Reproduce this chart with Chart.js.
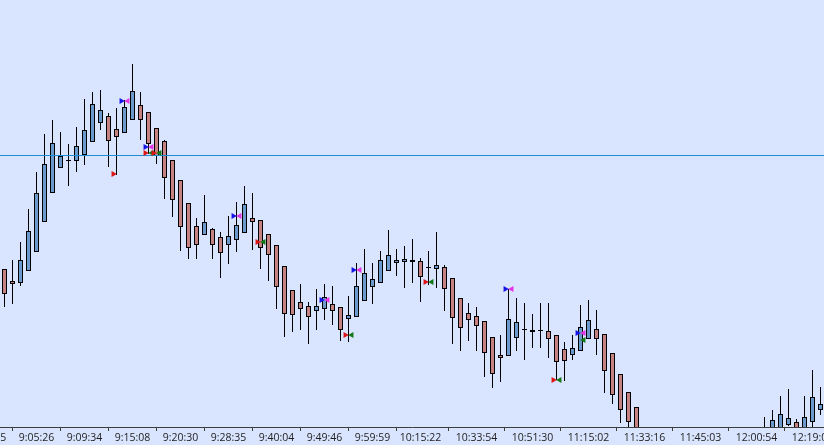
<!DOCTYPE html>
<html>
<head>
<meta charset="utf-8">
<script src="https://cdn.jsdelivr.net/npm/chart.js@4.4.0/dist/chart.umd.min.js"></script>
<style>
  html, body { margin: 0; padding: 0; background: #d9e4fe; overflow: hidden; }
  #wrap { width: 824px; height: 445px; }
</style>
</head>
<body>
<div id="wrap"><canvas id="c" width="824" height="445"></canvas></div>
<script>
// ---- data (one candle per index) ----
const opens = [
  4173.1,4171.9,4171.7,4172.9,4174.8,4177.8,4180.7,4183.2,4183.9,4183.9,
  4184.5,4185.8,4187.7,4188.4,4187.1,4186.7,4188.0,4189.5,4188.8,4187.2,
  4185.9,4184.0,4182.0,4179.7,4177.4,4176.5,4177.1,4176.3,4175.5,4176.0,
  4176.7,4178.2,4178.0,4176.6,4175.5,4173.4,4171.0,4169.8,4169.4,4168.9,
  4169.1,4169.6,4169.3,4168.1,4168.3,4169.9,4171.3,4171.7,4172.9,4173.7,
  4173.8,4173.8,4173.9,4173.2,4173.1,4173.3,4172.2,4170.2,4168.7,4168.4,
  4167.9,4166.3,4164.5,4164.4,4166.2,4167.0,4166.8,4166.9,4166.9,4166.5,
  4165.1,4164.5,4164.9,4166.1,4167.1,4166.6,4164.7,4162.6,4160.8,4159.3,
  null,null,null,null,null,null,null,null,null,null,null,null,null,null,null,
  4156.0,4156.8,4157.0,4157.5,4157.8,4157.0,4157.8,4159.0
];
const highs = [
  4173.1,4174.0,4175.8,4179.1,4182.8,4186.6,4188.0,4186.8,4185.6,4187.3,
  4190.1,4190.8,4191.0,4188.7,4189.2,4190.0,4193.6,4190.8,4188.8,4187.2,
  4186.0,4184.0,4182.0,4179.7,4178.2,4180.5,4177.2,4176.8,4178.4,4179.8,
  4181.4,4180.7,4178.0,4176.6,4175.5,4173.4,4171.0,4171.6,4169.8,4171.1,
  4171.6,4171.4,4169.3,4170.4,4173.7,4175.1,4173.7,4174.9,4177.0,4175.1,
  4175.4,4176.1,4174.2,4174.9,4176.8,4173.5,4172.2,4170.2,4169.7,4169.3,
  4167.9,4166.3,4166.5,4171.1,4170.2,4169.7,4168.6,4169.7,4169.7,4166.5,
  4165.8,4166.5,4169.5,4170.0,4169.0,4166.6,4164.7,4162.6,4160.8,4159.3,
  null,null,null,null,null,null,null,null,null,null,null,null,null,null,null,
  4158.3,4159.0,4160.4,4161.1,4158.1,4160.4,4163.0,4161.3
];
const lows = [
  4169.3,4169.6,4171.4,4172.9,4174.8,4177.8,4180.7,4183.2,4181.4,4182.8,
  4183.5,4185.8,4187.0,4183.3,4182.5,4186.7,4188.0,4186.0,4184.6,4183.6,
  4180.1,4178.3,4174.9,4174.1,4174.1,4176.5,4174.1,4172.2,4173.6,4174.8,
  4176.7,4175.0,4173.1,4171.9,4169.1,4166.3,4166.8,4167.0,4165.6,4167.0,
  4168.0,4167.5,4165.9,4165.8,4168.3,4169.9,4169.6,4171.7,4172.9,4172.4,
  4171.2,4171.7,4169.8,4171.5,4171.2,4168.9,4165.6,4164.9,4165.9,4164.9,
  4162.3,4161.2,4161.8,4164.4,4164.9,4164.0,4165.2,4165.2,4164.2,4162.0,
  4161.9,4164.0,4164.9,4166.1,4164.5,4160.7,4159.6,4157.7,4156.4,4155.4,
  null,null,null,null,null,null,null,null,null,null,null,null,null,null,null,
  4155.5,4156.4,4156.6,4157.4,4156.7,4156.8,4157.0,4158.5
];
const closes = [
  4170.6,4171.6,4174.0,4176.9,4180.7,4183.6,4185.7,4184.4,4183.9,4185.4,
  4187.0,4189.6,4189.0,4185.9,4186.3,4189.3,4190.9,4188.0,4185.6,4184.4,
  4182.2,4180.0,4177.3,4175.2,4175.5,4177.8,4175.5,4174.7,4176.4,4177.5,
  4179.6,4177.8,4175.2,4174.5,4171.3,4168.6,4168.5,4169.1,4168.3,4169.4,
  4170.3,4168.9,4167.0,4168.5,4171.4,4172.7,4172.1,4174.0,4174.5,4174.0,
  4174.1,4174.0,4172.3,4173.2,4173.5,4171.1,4168.2,4167.2,4168.0,4167.4,
  4164.7,4162.6,4164.2,4168.1,4167.8,4167.0,4167.0,4166.9,4166.1,4163.8,
  4163.9,4165.2,4167.3,4168.0,4166.1,4162.9,4160.5,4159.0,4157.8,4156.2,
  null,null,null,null,null,null,null,null,null,null,null,null,null,null,null,
  4156.8,4158.0,4158.6,4158.2,4157.0,4158.3,4160.3,4159.6
];

// x-axis time labels (candle index -> label)
const tickIndex  = [-2, 4, 10, 16, 22, 28, 34, 40, 46, 52, 59, 66, 73, 80, 87, 94, 101];
const tickLabels = ['9:02:15','9:05:26','9:09:34','9:15:08','9:20:30','9:28:35','9:40:04','9:49:46',
                    '9:59:59','10:15:22','10:33:54','10:51:30','11:15:02','11:33:16','11:45:03',
                    '12:00:54','12:19:04'];

// signal markers
const blueIdx     = [15, 18, 29, 40, 44, 63, 72];
const bluePrice   = [4189.9, 4185.3, 4178.4, 4170.0, 4173.0, 4171.1, 4166.7];
const magentaIdx  = [15, 18, 29, 40, 44, 63, 72];
const magentaPrice= [4189.9, 4185.3, 4178.4, 4170.0, 4173.0, 4171.1, 4166.7];
const redIdx      = [14, 18, 19, 32, 43, 53, 69];
const redPrice    = [4182.6, 4184.7, 4184.7, 4175.8, 4166.5, 4171.8, 4162.0];
const greenIdx    = [18, 19, 32, 43, 53, 69, 72];
const greenPrice  = [4184.7, 4184.7, 4175.8, 4166.5, 4171.8, 4162.0, 4166.0];

// horizontal reference level
const refLevel = 4184.45;

// ---- view / style ----
const X_MIN = -0.5625, X_MAX = 102.4375;
const Y_MIN = 4157.3, Y_MAX = 4200;
const MARK_DX = 0.4;
const COL_UP = '#6b9bcc', COL_DN = '#c68282', COL_DOJI = '#000000';
const COL_REF = 'rgb(30,140,215)';

const wickData = [], bodyData = [];
for (let i = 0; i < opens.length; i++) {
  if (opens[i] == null) continue;
  wickData.push({ x: i, y: [lows[i], highs[i]] });
  bodyData.push({ x: i, y: [opens[i], closes[i]] });
}
const mk = (idx, pr, dx) => idx.map((k, j) => ({ x: k + dx, y: pr[j] }));
const labelFor = {};
tickIndex.forEach((k, j) => { labelFor[k] = tickLabels[j]; });

// reference level drawn through the y scale, above candles and below the markers
const refLinePlugin = {
  id: 'refLine',
  beforeDatasetDraw(chart, args) {
    if (args.index !== 3) return; // first marker dataset to be drawn
    const a = chart.chartArea, y = chart.scales.y;
    const py = Math.floor(y.getPixelForValue(refLevel)) + 0.5;
    const ctx = chart.ctx;
    ctx.save();
    ctx.strokeStyle = COL_REF;
    ctx.lineWidth = 1;
    ctx.beginPath();
    ctx.moveTo(a.left, py);
    ctx.lineTo(a.right, py);
    ctx.stroke();
    ctx.restore();
  }
};

new Chart(document.getElementById('c'), {
  type: 'bar',
  data: {
    datasets: [
      { type: 'scatter', data: mk(blueIdx, bluePrice, -MARK_DX), pointStyle: 'triangle', rotation: 90,
        pointRadius: 3.5, pointBorderWidth: 0, backgroundColor: '#1414e6', borderColor: '#1414e6', order: 0 },
      { type: 'scatter', data: mk(magentaIdx, magentaPrice, MARK_DX), pointStyle: 'triangle', rotation: -90,
        pointRadius: 3.5, pointBorderWidth: 0, backgroundColor: '#e632e6', borderColor: '#e632e6', order: 0 },
      { type: 'scatter', data: mk(redIdx, redPrice, -MARK_DX), pointStyle: 'triangle', rotation: 90,
        pointRadius: 3.5, pointBorderWidth: 0, backgroundColor: '#dc1414', borderColor: '#dc1414', order: 0 },
      { type: 'scatter', data: mk(greenIdx, greenPrice, MARK_DX), pointStyle: 'triangle', rotation: -90,
        pointRadius: 3.5, pointBorderWidth: 0, backgroundColor: '#147814', borderColor: '#147814', order: 0 },
      { type: 'bar', data: bodyData, barThickness: 5, borderWidth: 1, borderColor: '#000',
        borderSkipped: false, inflateAmount: 0, minBarLength: 1, grouped: false, order: 2,
        backgroundColor: (ctx) => {
          const v = ctx.raw && ctx.raw.y; if (!v) return COL_UP;
          return v[1] > v[0] ? COL_UP : (v[1] < v[0] ? COL_DN : COL_DOJI);
        } },
      { type: 'bar', data: wickData, barThickness: 1, borderWidth: 0, backgroundColor: '#000',
        inflateAmount: 0, grouped: false, order: 3 }
    ]
  },
  plugins: [refLinePlugin],
  options: {
    responsive: false,
    devicePixelRatio: 1,
    animation: false,
    layout: { padding: 0, autoPadding: false },
    plugins: { legend: { display: false }, tooltip: { enabled: false } },
    scales: {
      x: {
        type: 'linear', min: X_MIN, max: X_MAX, bounds: 'data', offset: false,
        grid: { display: true, drawOnChartArea: false, drawTicks: true, tickLength: 4, color: '#3c3c3c', lineWidth: 1 },
        border: { display: true, color: '#3c3c3c', width: 1 },
        ticks: {
          autoSkip: false, maxRotation: 0, minRotation: 0, padding: 0, color: '#1e1e1e',
          font: { family: 'Open Sans', size: 10.5, lineHeight: '14px' },
          callback: (v) => labelFor[v] || ''
        },
        afterBuildTicks: (s) => { s.ticks = tickIndex.map(v => ({ value: v })); },
        afterFit: (s) => { s.paddingLeft = 0; s.paddingRight = 0; }
      },
      y: { type: 'linear', display: false, min: Y_MIN, max: Y_MAX }
    }
  }
});
</script>
</body>
</html>
